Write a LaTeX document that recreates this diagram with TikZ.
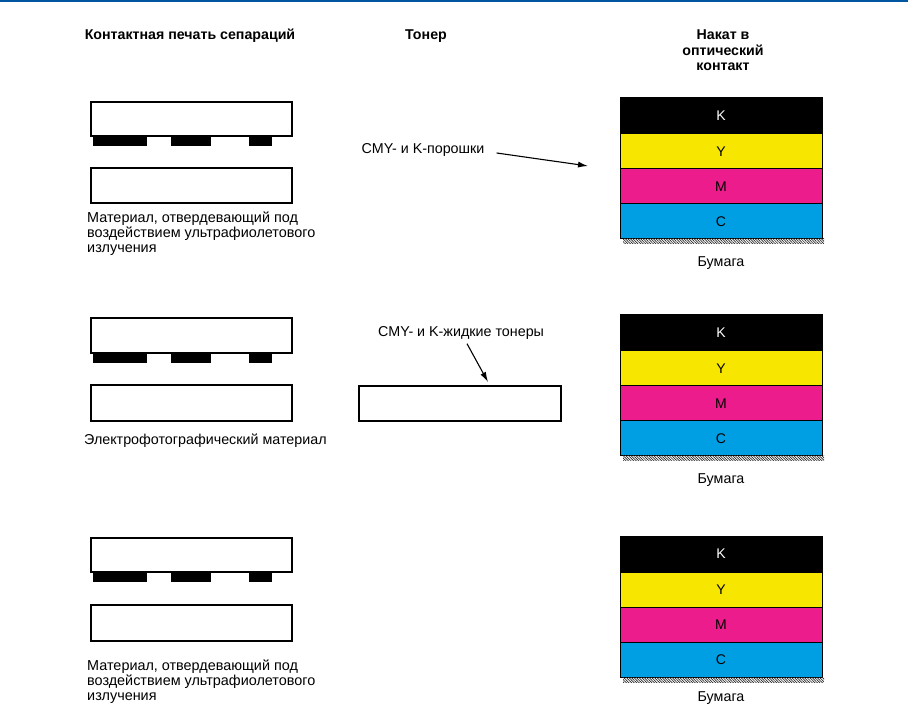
\documentclass[tikz,border=0pt]{standalone}
\usepackage{fontspec}
\setmainfont{Liberation Sans}
\usetikzlibrary{positioning,arrows.meta,patterns.meta}

\definecolor{rule}{RGB}{0,85,160}
\definecolor{tonerY}{RGB}{247,230,0}
\definecolor{tonerM}{RGB}{236,28,140}
\definecolor{tonerC}{RGB}{0,158,226}

\tikzset{
  plate/.style={draw, line width=1.2pt, minimum width=201pt, minimum height=34pt,
    inner sep=0pt, outer sep=0pt, anchor=north west},
  layer/.style={draw, line width=1pt, minimum width=202pt, minimum height=35pt,
    inner sep=0pt, outer sep=0pt, anchor=north west, font=\fontsize{14}{15}\selectfont},
  caption/.style={align=left, anchor=north west, inner sep=0pt, font=\fontsize{14.4}{15}\selectfont},
  label/.style={inner sep=0pt, font=\fontsize{14.3}{15}\selectfont},
  head/.style={align=center, inner sep=0pt, font=\bfseries\fontsize{14.2}{15.5}\selectfont},
  paper/.style={pattern={Lines[angle=-45, distance=1.8pt, line width=0.7pt]}, pattern color=black!85},
  pointer/.style={line width=1.1pt, -{Latex[length=10pt,width=6pt]}},
}

\begin{document}
\begin{tikzpicture}[x=1pt, y=-1pt]
    \useasboundingbox (0,0) rectangle (908,708);

    % Rule
    \draw [rule, line width=2.5pt] (0,1.2) -- (908,1.2);

    % Headings
    \node [head] (hsep) at (190,36) {Контактная печать сепараций};
    \node [head] (hton) at (426,36) {Тонер};
    \node [head, anchor=north] (hlam) at (723,30) {Накат в\\оптический\\контакт};

    % Row 1: UV-curing material
    \node [plate] (pl1) at (91,102) {};
    \fill ([xshift=2]pl1.south west) rectangle +(54,10);
    \fill ([xshift=80]pl1.south west) rectangle +(40,10);
    \fill ([xshift=158]pl1.south west) rectangle +(23,10);
    \node [plate, minimum height=35pt] (mat1) at (91,168) {};
    \node [caption] (cap1) at (87,212) {Материал, отвердевающий под\\воздействием ультрафиолетового\\излучения};

    % Powder toner
    \node [label] (pow) at (423,150) {CMY- и K-порошки};
    \coordinate (powtip) at (588,166);
    \draw [pointer] ([xshift=12,yshift=-3]pow.east) -- (powtip);

    % Stack 1
    \node [layer, fill=black, text=white, minimum height=36pt] (k1) at (620,98) {K};
    \node [layer, fill=tonerY, below=0pt of k1] (y1) {Y};
    \node [layer, fill=tonerM, below=0pt of y1] (m1) {M};
    \node [layer, fill=tonerC, below=0pt of m1] (c1) {C};
    \fill [paper] ([xshift=3]c1.south west) rectangle ([xshift=2,yshift=-5]c1.south east);
    \node [label] (pap1) at ([yshift=-24]c1.south) {Бумага};

    % Row 2: electrophotographic material
    \node [plate, minimum height=35pt] (pl2) at (91,318) {};
    \fill ([xshift=2]pl2.south west) rectangle +(54,10);
    \fill ([xshift=80]pl2.south west) rectangle +(40,10);
    \fill ([xshift=158]pl2.south west) rectangle +(23,10);
    \node [plate, minimum height=36pt] (mat2) at (91,385) {};
    \node [label, anchor=west] (cap2) at (84,441) {Электрофотографический материал};

    % Liquid toner
    \node [label] (liq) at (461,333) {CMY- и K-жидкие тонеры};
    \node [plate, minimum width=202pt, minimum height=35pt] (ton2) at (359,386) {};
    \coordinate (liqtip) at (488,382);
    \draw [pointer] ([xshift=6,yshift=-4]liq.south) -- (liqtip);

    % Stack 2
    \node [layer, fill=black, text=white, minimum height=36pt] (k2) at (620,315) {K};
    \node [layer, fill=tonerY, below=0pt of k2] (y2) {Y};
    \node [layer, fill=tonerM, below=0pt of y2] (m2) {M};
    \node [layer, fill=tonerC, below=0pt of m2] (c2) {C};
    \fill [paper] ([xshift=3]c2.south west) rectangle ([xshift=2,yshift=-5]c2.south east);
    \node [label] (pap2) at ([yshift=-24]c2.south) {Бумага};

    % Row 3: UV-curing material
    \node [plate] (pl3) at (91,538) {};
    \fill ([xshift=2]pl3.south west) rectangle +(54,10);
    \fill ([xshift=80]pl3.south west) rectangle +(40,10);
    \fill ([xshift=158]pl3.south west) rectangle +(23,10);
    \node [plate, minimum height=36pt] (mat3) at (91,605) {};
    \node [caption] (cap3) at (87,660) {Материал, отвердевающий под\\воздействием ультрафиолетового\\излучения};

    % Stack 3
    \node [layer, fill=black, text=white, minimum height=36pt] (k3) at (620,536) {K};
    \node [layer, fill=tonerY, below=0pt of k3] (y3) {Y};
    \node [layer, fill=tonerM, below=0pt of y3] (m3) {M};
    \node [layer, fill=tonerC, below=0pt of m3] (c3) {C};
    \fill [paper] ([xshift=3]c3.south west) rectangle ([xshift=2,yshift=-5]c3.south east);
    \node [label] (pap3) at ([yshift=-21]c3.south) {Бумага};
\end{tikzpicture}
\end{document}
